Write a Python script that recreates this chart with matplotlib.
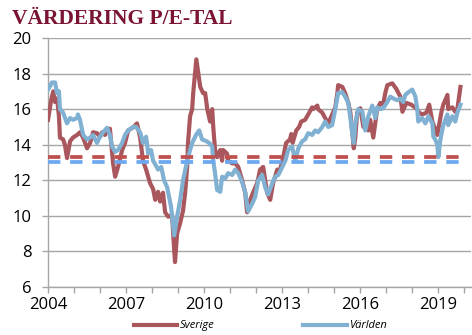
import matplotlib
matplotlib.use("Agg")
import matplotlib.pyplot as plt
import numpy as np

# P/E-tal, Sverige och Världen (decimala år, avlästa värden)
sverige_x = [2004.00, 2004.12, 2004.20, 2004.27, 2004.35, 2004.42, 2004.46, 2004.58, 2004.65, 2004.73,
             2004.85, 2004.96, 2005.12, 2005.23, 2005.35, 2005.50, 2005.62, 2005.73, 2005.88, 2006.00,
             2006.08, 2006.19, 2006.31, 2006.38, 2006.50, 2006.58, 2006.69, 2006.85, 2006.96, 2007.08,
             2007.19, 2007.30, 2007.42, 2007.54, 2007.65, 2007.77, 2007.85, 2007.92, 2008.04, 2008.12,
             2008.23, 2008.31, 2008.42, 2008.50, 2008.62, 2008.77, 2008.81, 2008.88, 2008.96, 2009.08,
             2009.19, 2009.27, 2009.35, 2009.38, 2009.46, 2009.54, 2009.58, 2009.70, 2009.85, 2009.96,
             2010.04, 2010.12, 2010.23, 2010.31, 2010.35, 2010.42, 2010.50, 2010.62, 2010.69, 2010.73,
             2010.88, 2010.92, 2011.08, 2011.20, 2011.31, 2011.46, 2011.58, 2011.65, 2011.77, 2011.88,
             2012.04, 2012.15, 2012.27, 2012.42, 2012.54, 2012.65, 2012.81, 2012.92, 2013.04, 2013.15,
             2013.30, 2013.35, 2013.40, 2013.54, 2013.65, 2013.73, 2013.88, 2014.00, 2014.15, 2014.19,
             2014.35, 2014.38, 2014.54, 2014.65, 2014.77, 2014.92, 2015.04, 2015.12, 2015.15, 2015.31,
             2015.42, 2015.54, 2015.62, 2015.69, 2015.75, 2015.81, 2015.88, 2016.00, 2016.12, 2016.19,
             2016.31, 2016.38, 2016.50, 2016.65, 2016.77, 2016.88, 2016.96, 2017.04, 2017.23, 2017.38,
             2017.54, 2017.62, 2017.77, 2017.96, 2018.15, 2018.27, 2018.38, 2018.54, 2018.65, 2018.77,
             2018.92, 2018.96, 2019.12, 2019.19, 2019.35, 2019.38, 2019.54, 2019.65, 2019.73, 2019.85]
sverige = [15.4, 16.5, 17.0, 16.4, 16.6, 15.6, 14.4, 14.3, 14.0, 13.25,
           14.2, 14.4, 14.55, 14.7, 14.4, 13.8, 14.1, 14.7, 14.65, 14.45,
           14.7, 14.55, 14.8, 14.9, 12.95, 12.2, 12.75, 13.7, 14.1, 14.8,
           14.9, 15.0, 15.2, 14.4, 13.1, 12.6, 12.2, 11.85, 11.5, 10.9,
           11.35, 10.8, 11.3, 10.2, 9.95, 10.05, 9.0, 7.4, 9.0, 9.6,
           10.3, 11.3, 12.8, 14.1, 15.6, 16.0, 16.9, 18.8, 17.25, 16.9,
           16.9, 16.0, 15.3, 16.0, 15.0, 13.7, 13.3, 13.7, 13.1, 13.7,
           13.5, 13.1, 12.95, 12.95, 12.75, 12.0, 11.3, 10.2, 10.9, 11.3,
           11.85, 12.6, 12.75, 11.3, 10.9, 11.85, 12.6, 12.6, 13.3, 14.1,
           14.3, 14.6, 14.1, 14.8, 15.0, 15.3, 15.4, 15.7, 16.1, 16.0,
           16.2, 16.0, 15.8, 15.5, 15.2, 15.7, 16.1, 16.9, 17.35, 17.25,
           16.9, 16.35, 15.8, 14.7, 13.8, 14.4, 15.8, 16.05, 15.0, 15.2,
           14.8, 15.4, 14.4, 16.0, 16.35, 16.25, 16.9, 17.35, 17.45, 17.15,
           16.7, 15.85, 16.35, 16.25, 16.05, 15.8, 15.7, 15.8, 16.25, 15.3,
           14.7, 14.55, 15.85, 16.25, 16.8, 16.0, 16.1, 15.85, 16.0, 17.25]

varlden_x = [2004.00, 2004.08, 2004.15, 2004.27, 2004.35, 2004.42, 2004.46, 2004.58, 2004.73, 2004.85,
             2004.96, 2005.12, 2005.15, 2005.23, 2005.35, 2005.50, 2005.62, 2005.73, 2005.88, 2006.00,
             2006.12, 2006.27, 2006.38, 2006.46, 2006.58, 2006.69, 2006.85, 2006.96, 2007.08, 2007.27,
             2007.38, 2007.54, 2007.65, 2007.77, 2007.85, 2007.96, 2008.04, 2008.12, 2008.23, 2008.35,
             2008.46, 2008.58, 2008.73, 2008.85, 2008.96, 2009.08, 2009.19, 2009.35, 2009.46, 2009.54,
             2009.69, 2009.81, 2009.92, 2010.08, 2010.19, 2010.31, 2010.35, 2010.42, 2010.50, 2010.62,
             2010.69, 2010.81, 2010.92, 2011.08, 2011.19, 2011.31, 2011.46, 2011.58, 2011.69, 2011.85,
             2011.96, 2012.08, 2012.23, 2012.35, 2012.46, 2012.62, 2012.73, 2012.85, 2013.00, 2013.12,
             2013.23, 2013.38, 2013.50, 2013.62, 2013.77, 2013.88, 2014.00, 2014.15, 2014.27, 2014.38,
             2014.54, 2014.65, 2014.77, 2014.92, 2015.04, 2015.15, 2015.31, 2015.42, 2015.54, 2015.62,
             2015.69, 2015.75, 2015.81, 2015.92, 2016.08, 2016.19, 2016.31, 2016.46, 2016.58, 2016.65,
             2016.77, 2016.88, 2017.04, 2017.15, 2017.27, 2017.42, 2017.54, 2017.65, 2017.73, 2017.85,
             2018.00, 2018.12, 2018.19, 2018.23, 2018.38, 2018.50, 2018.62, 2018.77, 2018.81, 2018.88,
             2018.96, 2019.00, 2019.08, 2019.19, 2019.35, 2019.38, 2019.54, 2019.65, 2019.73, 2019.85]
varlden = [17.1, 17.3, 17.5, 17.5, 16.9, 17.0, 16.0, 15.8, 15.2, 15.5,
           15.4, 15.5, 15.7, 15.4, 14.55, 14.3, 14.4, 14.55, 14.1, 14.45,
           14.7, 14.95, 14.55, 13.9, 13.6, 13.7, 14.1, 14.55, 14.8, 15.0,
           15.0, 14.7, 14.1, 14.45, 13.5, 13.7, 13.1, 12.9, 12.6, 12.75,
           12.0, 11.6, 10.5, 8.9, 9.95, 10.9, 12.0, 13.1, 13.7, 14.1,
           14.55, 14.8, 14.3, 14.2, 14.1, 13.9, 13.1, 12.4, 11.45, 11.35,
           12.2, 12.1, 12.4, 12.3, 12.6, 12.4, 11.9, 11.3, 10.25, 10.7,
           11.05, 12.0, 12.3, 11.6, 11.2, 11.85, 12.2, 12.3, 12.75, 13.1,
           13.7, 13.9, 13.1, 13.8, 14.2, 14.3, 14.65, 14.55, 14.8, 14.7,
           15.0, 15.3, 15.0, 15.1, 16.0, 16.9, 16.95, 16.7, 16.35, 15.5,
           14.65, 14.1, 15.2, 16.0, 15.85, 14.8, 15.6, 16.2, 15.5, 16.1,
           16.0, 16.05, 16.4, 16.7, 16.6, 16.5, 16.6, 16.4, 16.8, 16.95,
           17.1, 16.7, 16.0, 15.3, 15.5, 15.2, 15.6, 15.2, 14.45, 14.3,
           14.0, 13.3, 14.3, 15.1, 15.7, 15.1, 15.6, 15.3, 15.8, 16.25]

snitt_sverige = 13.3
snitt_varlden = 13.05

fig = plt.figure(figsize=(4.72, 3.35), dpi=100)
ax = fig.add_axes([0.1017, 0.1433, 0.897, 0.7433])

ax.plot(sverige_x, sverige, color="#A9575D", lw=3, solid_joinstyle="round", label="Sverige", zorder=3)
ax.plot(varlden_x, varlden, color="#80B0D2", lw=3, solid_joinstyle="round", label="Världen", zorder=4)

xs = [min(sverige_x), max(sverige_x)]
ax.plot(xs, [snitt_sverige] * 2, color="#C0504D", lw=2.7, dashes=(3.3, 2.6), zorder=5)
ax.plot(xs, [snitt_varlden] * 2, color="#6CA8F0", lw=2.7, dashes=(3.3, 2.6), zorder=5)

ax.set_xlim(2004, 2020.27)
ax.set_ylim(6, 20)
ax.set_xticks(np.arange(2004, 2020, 3))
ax.set_xticks(np.arange(2004, 2021, 1), minor=True)
ax.set_yticks(np.arange(6, 21, 2))

ax.grid(axis="y", color="#A6A6A6", lw=1)
ax.set_axisbelow(True)
for s in ["top", "right"]:
    ax.spines[s].set_visible(False)
for s in ["left", "bottom"]:
    ax.spines[s].set_color("#A6A6A6")
    ax.spines[s].set_linewidth(1)

ax.tick_params(axis="both", which="both", color="#A6A6A6", direction="out", length=4, width=1)
ax.tick_params(axis="y", pad=8)
ax.tick_params(axis="x", pad=3)
for lab in ax.get_xticklabels() + ax.get_yticklabels():
    lab.set_fontfamily("Open Sans")
    lab.set_fontsize(12)
    lab.set_color("#000000")

fig.text(0.026, 0.927, "VÄRDERING P/E-TAL", fontfamily="Liberation Serif", fontweight="bold",
         fontsize=15.5, color="#7B1333", ha="left", va="baseline")

leg = fig.legend(loc="center", bbox_to_anchor=(0.552, 0.027), ncol=2, frameon=False,
                 handlelength=3.9, handletextpad=0.25, columnspacing=8.0,
                 prop={"family": "Open Sans", "style": "italic", "size": 8})

fig.savefig("out.png", dpi=100)
